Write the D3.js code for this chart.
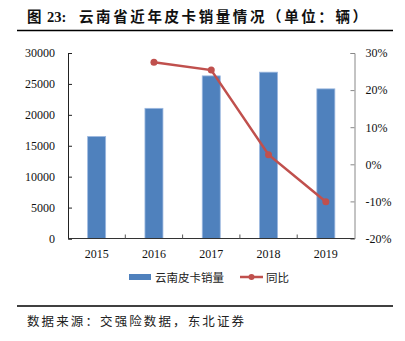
<!DOCTYPE html>
<html><head><meta charset="utf-8">
<script src="https://cdn.jsdelivr.net/npm/d3@7"></script>
<style>body{margin:0;background:#fff}svg{display:block}</style>
</head><body>
<svg id="c" width="405" height="341"></svg>
<script>
const years = ["2015","2016","2017","2018","2019"];
const sales = [16500, 21050, 26300, 26900, 24200];
const yoyYears = ["2016","2017","2018","2019"];
const yoy = [27.5, 25.4, 2.6, -10.1];
const leftTicks = [0,5000,10000,15000,20000,25000,30000];
const rightTicks = [-20,-10,0,10,20,30];

const svg = d3.select("#c");
const L=68, R=354.5, T=53, B=238.5;
const serif = "'Liberation Serif','Times New Roman',serif";
const cjk = "'Noto Sans CJK SC',sans-serif";

// title
const tt = svg.append("text").attr("x",27).attr("y",22).attr("font-family",cjk).attr("font-weight","bold")
  .attr("font-size",14.5).attr("fill","#111");
tt.append("tspan").text("图");
tt.append("tspan").attr("x",47).attr("font-family",serif).text("23:");
tt.append("tspan").attr("x",79).attr("textLength",288).attr("lengthAdjust","spacing").text("云南省近年皮卡销量情况（单位：辆）");
svg.append("line").attr("x1",17).attr("x2",393).attr("y1",30.5).attr("y2",30.5).attr("stroke","#000").attr("stroke-width",1.5);
svg.append("line").attr("x1",17).attr("x2",393).attr("y1",306).attr("y2",306).attr("stroke","#000").attr("stroke-width",1.5);
svg.append("text").attr("x",27).attr("y",326).attr("font-family",cjk).attr("font-size",12.5)
  .attr("textLength",217).attr("lengthAdjust","spacing")
  .attr("fill","#222").text("数据来源：交强险数据，东北证券");

const xc = d3.scaleBand().domain(years).range([L,R]);
const y = d3.scaleLinear().domain([0,30000]).range([B,T]);
const y2 = d3.scaleLinear().domain([-20,30]).range([B,T]);

// bars
svg.append("g").selectAll("rect").data(years).join("rect")
  .attr("x",d=>xc(d)+xc.bandwidth()/2-9).attr("width",18)
  .attr("y",(d,i)=>y(sales[i])).attr("height",(d,i)=>B-y(sales[i]))
  .attr("fill","#4F81BD").attr("stroke","#9DB9E0").attr("stroke-width",0.8);

// left axis
const gl = svg.append("g").attr("transform",`translate(${L},0)`)
  .call(d3.axisLeft(y).tickValues(leftTicks).tickSize(-4).tickPadding(13).tickFormat(d3.format("d")));
gl.select(".domain").attr("stroke","#222");
gl.selectAll(".tick line").attr("stroke","#222");
gl.selectAll("text").attr("font-family",serif).attr("font-size",12).attr("fill","#111");

// right axis
const gr = svg.append("g").attr("transform",`translate(${R},0)`)
  .call(d3.axisRight(y2).tickValues(rightTicks).tickSize(-4).tickPadding(11).tickFormat(d=>d+"%"));
gr.select(".domain").attr("stroke","#888");
gr.selectAll(".tick line").attr("stroke","#888");
gr.selectAll("text").attr("font-family",serif).attr("font-size",12).attr("fill","#111");

// x axis
const gx = svg.append("g").attr("transform",`translate(0,${B})`);
gx.append("line").attr("x1",L).attr("x2",R).attr("stroke","#333");
gx.selectAll("line.t").data(years.slice(1)).join("line").attr("class","t")
  .attr("x1",d=>xc(d)).attr("x2",d=>xc(d)).attr("y1",0).attr("y2",-4).attr("stroke","#555");
gx.selectAll("text").data(years).join("text")
  .attr("x",d=>xc(d)+xc.bandwidth()/2).attr("y",19).attr("text-anchor","middle")
  .attr("font-family",serif).attr("font-size",12).attr("fill","#111").text(d=>d);

// line
const line = d3.line().x(d=>xc(d[0])+xc.bandwidth()/2).y(d=>y2(d[1]));
const pts = yoyYears.map((d,i)=>[d,yoy[i]]);
svg.append("path").datum(pts).attr("d",line).attr("fill","none").attr("stroke","#C0504D").attr("stroke-width",2.5);
svg.append("g").selectAll("circle").data(pts).join("circle")
  .attr("cx",d=>xc(d[0])+xc.bandwidth()/2).attr("cy",d=>y2(d[1])).attr("r",3.5).attr("fill","#C0504D");

// legend
const lg = svg.append("g");
lg.append("rect").attr("x",129).attr("y",274).attr("width",22).attr("height",6).attr("fill","#4F81BD");
lg.append("text").attr("x",155).attr("y",281.5).attr("font-family",cjk).attr("font-size",11.5).attr("fill","#222").text("云南皮卡销量");
lg.append("line").attr("x1",240).attr("x2",263).attr("y1",277).attr("y2",277).attr("stroke","#C0504D").attr("stroke-width",2.5);
lg.append("circle").attr("cx",251.5).attr("cy",277).attr("r",3).attr("fill","#C0504D");
lg.append("text").attr("x",266).attr("y",281.5).attr("font-family",cjk).attr("font-size",11.5).attr("fill","#222").text("同比");
</script>
</body></html>
